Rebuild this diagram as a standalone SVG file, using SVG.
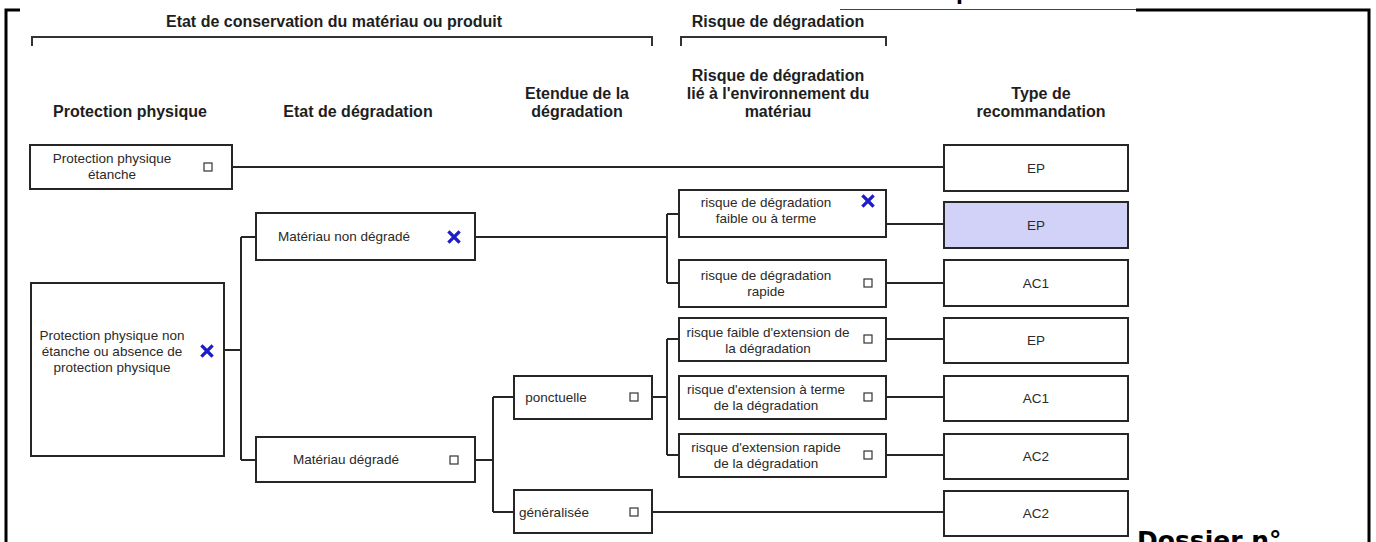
<svg xmlns="http://www.w3.org/2000/svg" width="1376" height="542" viewBox="0 0 1376 542">
  <style>
    .hdr { font-family: "Liberation Sans", Arial, sans-serif; font-weight: bold; font-size: 16px; fill: #1e1e1e; text-anchor: middle; }
    .lbl { font-family: "Liberation Sans", Arial, sans-serif; font-size: 13.5px; fill: #2a2a2a; text-anchor: middle; }
    .box { fill: #ffffff; stroke: #262626; stroke-width: 2; }
    .sel { fill: #d2d2f8; stroke: #262626; stroke-width: 2; }
    .chk { fill: #ffffff; stroke: #333333; stroke-width: 1.2; }
    .cross { stroke: #1c1cc8; stroke-width: 3.2; stroke-linecap: square; fill: none; }
    .wire { stroke: #262626; stroke-width: 2; fill: none; }
    .frame { stroke: #000000; stroke-width: 3; fill: none; }
    .brk { stroke: #333333; stroke-width: 2; fill: none; }
    .doc { font-family: "DejaVu Sans", Verdana, sans-serif; font-weight: bold; fill: #000000; }
  </style>
  <defs>
    <rect id="cb" class="chk" x="-4" y="-4" width="8" height="8"/>
    <path id="xm" class="cross" d="M-4.5,-4.5 L4.5,4.5 M4.5,-4.5 L-4.5,4.5"/>
  </defs>

  <rect width="1376" height="542" fill="#ffffff"/>

  <!-- page frame -->
  <g id="frame">
    <path class="frame" d="M6,542 V10 H20"/>
    <path class="frame" d="M1136,10 H1369 V542"/>
    <line x1="840" y1="9.5" x2="1136" y2="9.5" stroke="#444" stroke-width="1"/>
    <text class="doc" x="956" y="0" font-size="20">p</text>
    <text class="doc" x="1137" y="549" font-size="25">Dossier n°</text>
  </g>

  <!-- group headings with brackets -->
  <g id="headings">
    <text class="hdr" x="334" y="27">Etat de conservation du matériau ou produit</text>
    <path class="brk" d="M32,46 V37 H652 V46"/>
    <text class="hdr" x="778" y="27">Risque de dégradation</text>
    <path class="brk" d="M681,46 V37 H886 V46"/>

    <text class="hdr" x="130" y="117">Protection physique</text>
    <text class="hdr" x="358" y="117">Etat de dégradation</text>
    <text class="hdr" x="577" y="99">Etendue de la</text>
    <text class="hdr" x="577" y="117">dégradation</text>
    <text class="hdr" x="778" y="81">Risque de dégradation</text>
    <text class="hdr" x="778" y="99">lié à l'environnement du</text>
    <text class="hdr" x="778" y="117">matériau</text>
    <text class="hdr" x="1041" y="99">Type de</text>
    <text class="hdr" x="1041" y="117">recommandation</text>
  </g>

  <!-- connectors -->
  <g id="connectors">
    <path class="wire" d="M232,167 H944"/>
    <path class="wire" d="M224,350 H241 M241,237 V460 M241,237 H256 M241,460 H256"/>
    <path class="wire" d="M475,237 H667 M667,214 V283 M667,214 H678 M667,283 H678"/>
    <path class="wire" d="M475,460 H493 M493,397 V512 M493,397 H514 M493,512 H514"/>
    <path class="wire" d="M652,397 H667 M667,339 V455 M667,339 H678 M667,455 H678"/>
    <path class="wire" d="M886,224 H944"/>
    <path class="wire" d="M886,283 H944"/>
    <path class="wire" d="M886,339 H944"/>
    <path class="wire" d="M886,397 H944"/>
    <path class="wire" d="M886,455 H944"/>
    <path class="wire" d="M652,512 H944"/>
  </g>

  <!-- column 1 -->
  <g id="n-etanche">
    <rect class="box" x="30" y="145" width="202" height="44"/>
    <text class="lbl" x="112" y="163">Protection physique</text>
    <text class="lbl" x="112" y="179">étanche</text>
    <use href="#cb" x="208" y="167"/>
  </g>
  <g id="n-non-etanche">
    <rect class="box" x="31" y="283" width="193" height="173"/>
    <text class="lbl" x="112" y="340">Protection physique non</text>
    <text class="lbl" x="112" y="356">étanche ou absence de</text>
    <text class="lbl" x="112" y="372">protection physique</text>
    <use href="#xm" x="207" y="351"/>
  </g>

  <!-- column 2 -->
  <g id="n-non-degrade">
    <rect class="box" x="256" y="213" width="219" height="47"/>
    <text class="lbl" x="344" y="241">Matériau non dégradé</text>
    <use href="#xm" x="454" y="237"/>
  </g>
  <g id="n-degrade">
    <rect class="box" x="256" y="437" width="219" height="45"/>
    <text class="lbl" x="346" y="464">Matériau dégradé</text>
    <use href="#cb" x="454" y="460"/>
  </g>

  <!-- column 3 -->
  <g id="n-ponctuelle">
    <rect class="box" x="514" y="376" width="138" height="43"/>
    <text class="lbl" x="556" y="402">ponctuelle</text>
    <use href="#cb" x="634" y="397"/>
  </g>
  <g id="n-generalisee">
    <rect class="box" x="514" y="490" width="138" height="43"/>
    <text class="lbl" x="554" y="517">généralisée</text>
    <use href="#cb" x="634" y="512"/>
  </g>

  <!-- column 4 -->
  <g id="n-risque-faible">
    <rect class="box" x="679" y="190" width="207" height="47"/>
    <text class="lbl" x="766" y="207">risque de dégradation</text>
    <text class="lbl" x="766" y="223">faible ou à terme</text>
    <use href="#xm" x="868" y="201"/>
  </g>
  <g id="n-risque-rapide">
    <rect class="box" x="679" y="260" width="207" height="47"/>
    <text class="lbl" x="766" y="280">risque de dégradation</text>
    <text class="lbl" x="766" y="296">rapide</text>
    <use href="#cb" x="868" y="283"/>
  </g>
  <g id="n-ext-faible">
    <rect class="box" x="679" y="318" width="207" height="43"/>
    <text class="lbl" x="768" y="337">risque faible d'extension de</text>
    <text class="lbl" x="768" y="353">la dégradation</text>
    <use href="#cb" x="868" y="339"/>
  </g>
  <g id="n-ext-terme">
    <rect class="box" x="679" y="376" width="207" height="43"/>
    <text class="lbl" x="766" y="394">risque d'extension à terme</text>
    <text class="lbl" x="766" y="410">de la dégradation</text>
    <use href="#cb" x="868" y="397"/>
  </g>
  <g id="n-ext-rapide">
    <rect class="box" x="679" y="434" width="207" height="43"/>
    <text class="lbl" x="766" y="452">risque d'extension rapide</text>
    <text class="lbl" x="766" y="468">de la dégradation</text>
    <use href="#cb" x="868" y="455"/>
  </g>

  <!-- column 5: recommendations -->
  <g id="r1">
    <rect class="box" x="944" y="145" width="184" height="46"/>
    <text class="lbl" x="1036" y="173">EP</text>
  </g>
  <g id="r2">
    <rect class="sel" x="944" y="202" width="184" height="46"/>
    <text class="lbl" x="1036" y="230" fill="#444">EP</text>
  </g>
  <g id="r3">
    <rect class="box" x="944" y="260" width="184" height="46"/>
    <text class="lbl" x="1036" y="288">AC1</text>
  </g>
  <g id="r4">
    <rect class="box" x="944" y="318" width="184" height="45"/>
    <text class="lbl" x="1036" y="345">EP</text>
  </g>
  <g id="r5">
    <rect class="box" x="944" y="376" width="184" height="45"/>
    <text class="lbl" x="1036" y="403">AC1</text>
  </g>
  <g id="r6">
    <rect class="box" x="944" y="434" width="184" height="45"/>
    <text class="lbl" x="1036" y="461">AC2</text>
  </g>
  <g id="r7">
    <rect class="box" x="944" y="491" width="184" height="45"/>
    <text class="lbl" x="1036" y="518">AC2</text>
  </g>
</svg>
